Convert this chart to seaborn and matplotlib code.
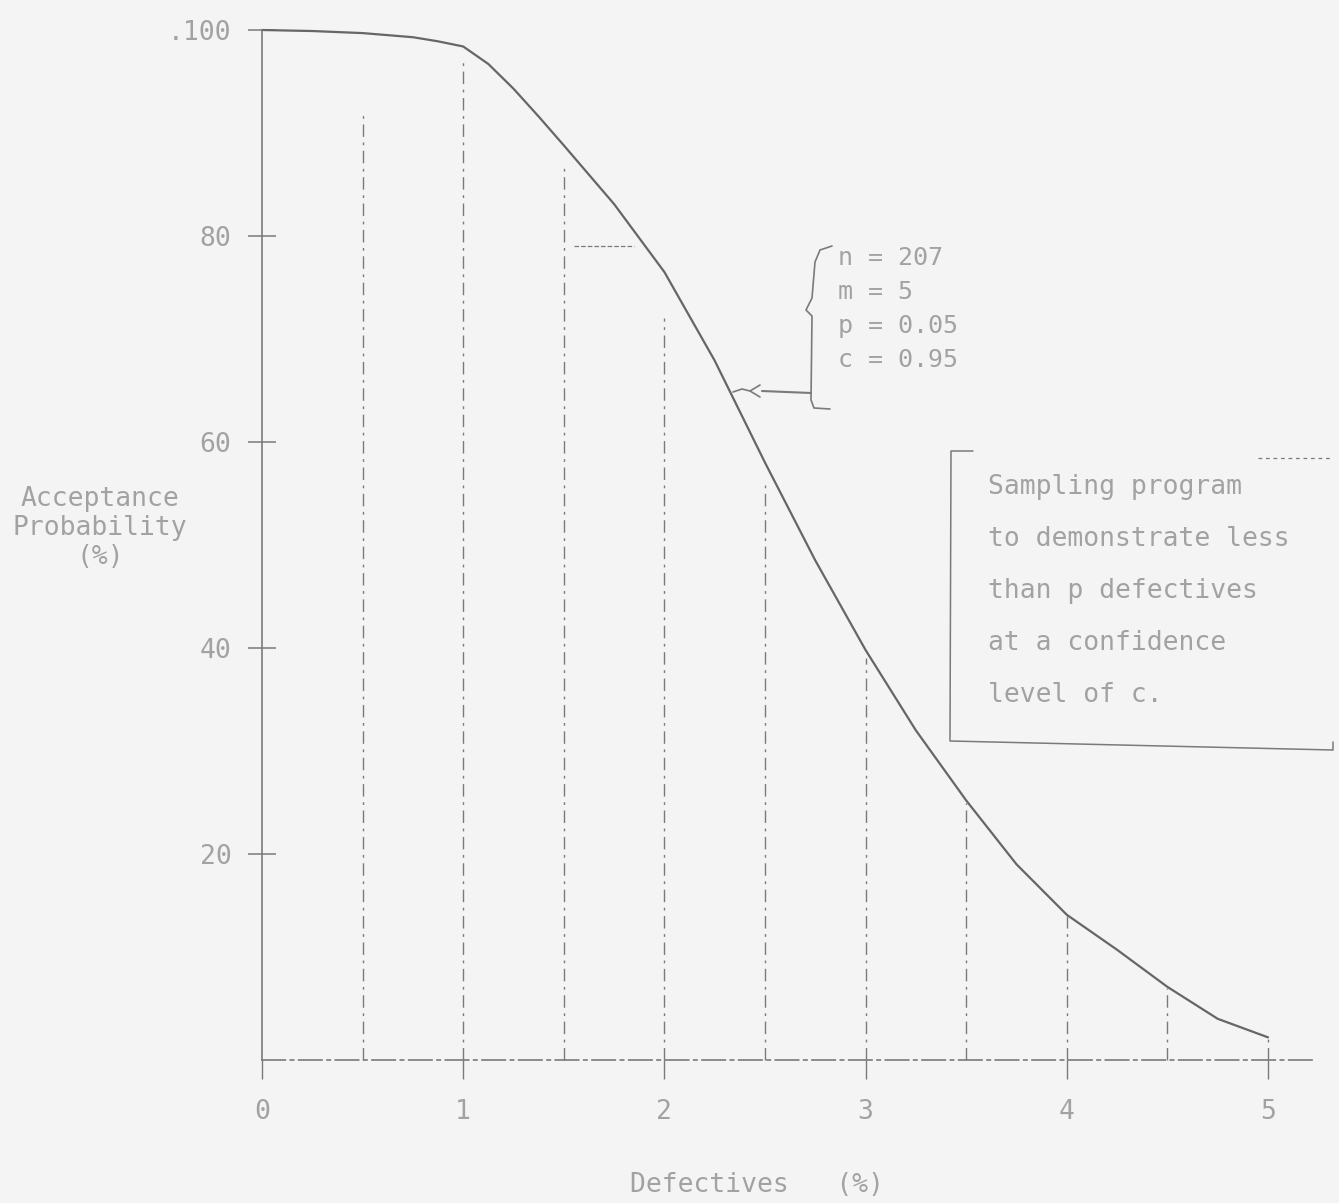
import matplotlib
matplotlib.use("Agg")
import matplotlib.pyplot as plt
import seaborn as sns
import pandas as pd
from matplotlib.lines import Line2D

# ---- data ----
defect_pct = [0, 0.25, 0.5, 0.75, 0.875, 1.0, 1.125, 1.25, 1.375, 1.5, 1.75, 2.0,
              2.25, 2.5, 2.75, 3.0, 3.25, 3.5, 3.75, 4.0, 4.25, 4.5, 4.75, 5.0]
accept_prob = [100, 99.9, 99.7, 99.3, 98.9, 98.4, 96.7, 94.3, 91.6, 88.8, 83.1, 76.5,
               67.9, 58.0, 48.5, 39.8, 32.0, 25.2, 19.0, 14.1, 10.7, 7.1, 4.0, 2.2]
drop_x = [0.5, 1.0, 1.5, 2.0, 2.5, 3.0, 3.5, 4.0, 4.5, 5.0]
drop_top = [92, 97, 87, 72, 56, 39, 25, 14, 7, 2.2]
x_ticks = [0, 1, 2, 3, 4, 5]
x_labels = ["0", "1", "2", "3", "4", "5"]
y_ticks = [20, 40, 60, 80, 100]
y_labels = ["20", "40", "60", "80", ".100"]
params = ["n = 207", "m = 5", "p = 0.05", "c = 0.95"]
box_lines = ["Sampling program", "to demonstrate less", "than p defectives",
             "at a confidence", "level of c."]

sns.set_theme(style="white")
plt.rcParams["font.family"] = ["DejaVu Sans Mono", "DejaVu Sans"]

W, H = 1339, 1203
BG = "#f4f4f4"
LINE = "#7a7a7a"
TXT = "#a2a2a2"
FS = 19

fig = plt.figure(figsize=(W / 100, H / 100), dpi=100, facecolor=BG)
ax = fig.add_axes([262 / W, 1 - 1060 / H, (1315 - 262) / W, (1060 - 30) / H])
ax.set_facecolor(BG)

df = pd.DataFrame({"Defectives (%)": defect_pct, "Acceptance Probability (%)": accept_prob})
sns.lineplot(data=df, x="Defectives (%)", y="Acceptance Probability (%)", ax=ax,
             color="#666666", linewidth=1.6, clip_on=False)

ax.vlines(drop_x, 0, drop_top, colors=LINE, linewidth=1.0,
          linestyles=[(0, (9, 4, 2, 4))], clip_on=False)
ax.hlines(79, 1.55, 1.85, colors=LINE, linewidth=0.9, linestyles="dashed")

ax.set_xlim(0, 1053 / 201.2)
ax.set_ylim(0, 100)
ax.set_xticks(x_ticks)
ax.set_xticklabels(x_labels)
ax.set_yticks(y_ticks)
ax.set_yticklabels(y_labels)
ax.set_xlabel("")
ax.set_ylabel("")
ax.grid(False)

for s in ["top", "right"]:
    ax.spines[s].set_visible(False)
ax.spines["left"].set_color(LINE)
ax.spines["left"].set_linewidth(1.2)
ax.spines["bottom"].set_color(LINE)
ax.spines["bottom"].set_linewidth(1.2)
ax.spines["bottom"].set_linestyle((0, (14, 3, 2, 3)))

ax.tick_params(axis="y", left=True, direction="inout", length=20, width=1.1, color=LINE,
               pad=12, labelsize=FS, labelcolor=TXT)
ax.tick_params(axis="x", bottom=True, direction="out", length=14, width=1.0, color=LINE,
               pad=14, labelsize=FS, labelcolor=TXT)

# axis titles
fig.text(100 / W, 1 - 528 / H, "Acceptance\nProbability\n(%)", ha="center", va="center",
         multialignment="center", fontsize=FS, color=TXT, linespacing=1.15)
fig.text(757 / W, 1 - 1185 / H, "Defectives   (%)", ha="center", va="center",
         fontsize=FS, color=TXT)


def fline(pts, **kw):
    xs = [p[0] / W for p in pts]
    ys = [1 - p[1] / H for p in pts]
    fig.add_artist(Line2D(xs, ys, transform=fig.transFigure, **kw))


# brace + arrow pointing to the curve
fline([(832, 246), (820, 250), (815, 262), (812, 298), (806, 310),
       (812, 316), (811, 400), (814, 408), (830, 409)], color=LINE, linewidth=1.2)
fline([(811, 393), (762, 391)], color=LINE, linewidth=1.5)
fline([(760, 385), (750, 391), (760, 397)], color=LINE, linewidth=1.2)
fline([(750, 391), (742, 389), (733, 392)], color=LINE, linewidth=1.2)

for i, t in enumerate(params):
    fig.text(838 / W, 1 - (258 + i * 34) / H, t, ha="left", va="center",
             fontsize=FS - 1, color=TXT)

# note box
fline([(973, 451), (951, 451), (950, 741), (1333, 750), (1333, 742)],
      color=LINE, linewidth=1.1)
fline([(1258, 458), (1330, 458)], color=LINE, linewidth=0.9, linestyle=(0, (3, 3)))
for i, t in enumerate(box_lines):
    fig.text(988 / W, 1 - (487 + i * 52) / H, t, ha="left", va="center",
             fontsize=FS, color=TXT)

fig.savefig("out.png", dpi=100, facecolor=BG)
